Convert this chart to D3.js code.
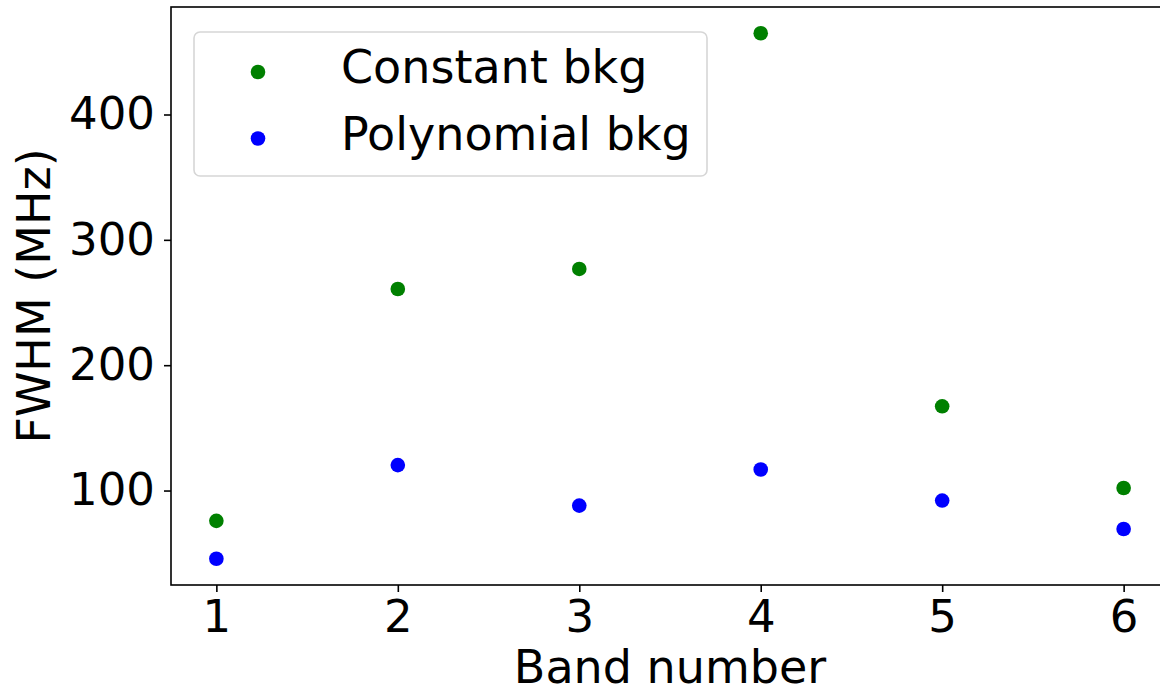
<!DOCTYPE html>
<html>
<head>
<meta charset="utf-8">
<script src="https://cdn.jsdelivr.net/npm/d3@7"></script>
<style>
  body { margin: 0; background: #fff; }
  svg { display: block; }
  text { font-family: "DejaVu Sans", sans-serif; fill: #000; }
</style>
</head>
<body>
<svg width="1160" height="691"></svg>
<script>
// FWHM per band, two background models
var bands = [1, 2, 3, 4, 5, 6];
var constantBkg = [75.8, 260.8, 276.8, 464.8, 167.2, 102.0];
var polynomialBkg = [45.6, 120.3, 88.0, 116.8, 92.0, 69.3];
var yTicks = [100, 200, 300, 400];

var series = [
  {name: "Constant bkg", color: "#008000", values: constantBkg},
  {name: "Polynomial bkg", color: "#0000ff", values: polynomialBkg}
];

var svg = d3.select("svg"),
    margin = {top: 7, right: -9, bottom: 106, left: 171},
    width = svg.attr("width") - margin.left - margin.right,
    height = svg.attr("height") - margin.top - margin.bottom,
    g = svg.append("g").attr("transform", "translate(" + margin.left + "," + margin.top + ")");

// matplotlib-style 5% padding around the data
var x = d3.scaleLinear().domain([0.75, 6.25]).range([0, width]);
var all = constantBkg.concat(polynomialBkg);
var lo = d3.min(all), hi = d3.max(all), pad = (hi - lo) * 0.05;
var y = d3.scaleLinear().domain([lo - pad, hi + pad]).range([height, 0]);

var xAxis = g.append("g")
    .attr("transform", "translate(0," + height + ")")
    .call(d3.axisBottom(x).tickValues(bands).tickFormat(d3.format("d")).tickSize(7).tickPadding(8));
var yAxis = g.append("g")
    .call(d3.axisLeft(y).tickValues(yTicks).tickSize(7).tickPadding(9));

[xAxis, yAxis].forEach(function(a) {
  a.select(".domain").remove();
  a.selectAll(".tick line").attr("stroke", "#000").attr("stroke-width", 1.6);
  a.selectAll(".tick text").style("font-size", "45px").attr("fill", "#000");
});

// frame
g.append("rect")
    .attr("width", width)
    .attr("height", height)
    .attr("fill", "none")
    .attr("stroke", "#000")
    .attr("stroke-width", 1.6);

series.forEach(function(s) {
  g.selectAll(null)
    .data(s.values)
    .enter().append("circle")
      .attr("cx", function(d, i) { return x(bands[i]); })
      .attr("cy", function(d) { return y(d); })
      .attr("r", 7.3)
      .attr("fill", s.color);
});

// axis labels
svg.append("text")
    .attr("x", margin.left + width / 2)
    .attr("y", 683)
    .attr("text-anchor", "middle")
    .style("font-size", "46px")
    .text("Band number");
svg.append("text")
    .attr("transform", "translate(50," + (margin.top + height / 2) + ") rotate(-90)")
    .attr("text-anchor", "middle")
    .style("font-size", "46px")
    .text("FWHM (MHz)");

// legend
var legend = svg.append("g").attr("transform", "translate(194,32)");
legend.append("rect")
    .attr("width", 513)
    .attr("height", 144)
    .attr("rx", 6)
    .attr("fill", "#fff")
    .attr("fill-opacity", 0.8)
    .attr("stroke", "#d6d6d6")
    .attr("stroke-width", 1.6);
var item = legend.selectAll(".item")
    .data(series)
    .enter().append("g")
    .attr("class", "item")
    .attr("transform", function(d, i) { return "translate(0," + (40 + i * 66.5) + ")"; });
item.append("circle")
    .attr("cx", 64)
    .attr("r", 7.3)
    .attr("fill", function(d) { return d.color; });
item.append("text")
    .attr("x", 147)
    .attr("y", 11)
    .style("font-size", "46px")
    .text(function(d) { return d.name; });
</script>
</body>
</html>
